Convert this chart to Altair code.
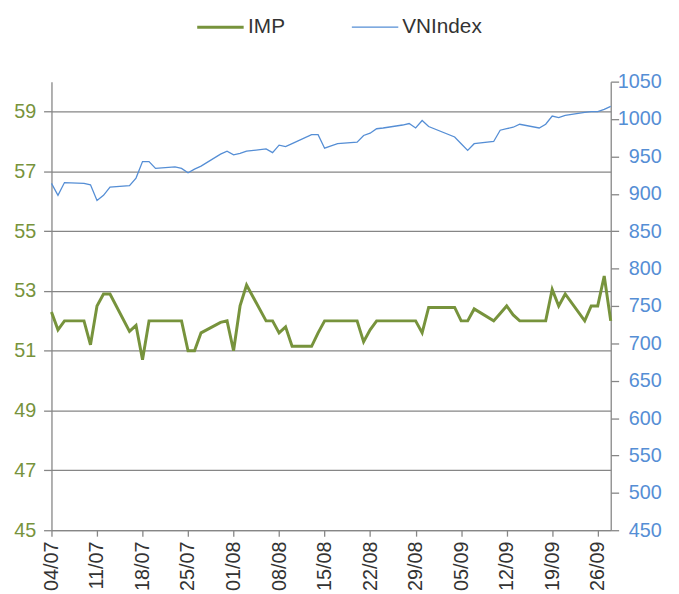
import altair as alt
import pandas as pd

# Trading days (2018)
dates = [
    "2018-07-04", "2018-07-05", "2018-07-06",
    "2018-07-09", "2018-07-10", "2018-07-11", "2018-07-12", "2018-07-13",
    "2018-07-16", "2018-07-17", "2018-07-18", "2018-07-19", "2018-07-20",
    "2018-07-23", "2018-07-24", "2018-07-25", "2018-07-26", "2018-07-27",
    "2018-07-30", "2018-07-31", "2018-08-01", "2018-08-02", "2018-08-03",
    "2018-08-06", "2018-08-07", "2018-08-08", "2018-08-09", "2018-08-10",
    "2018-08-13", "2018-08-14", "2018-08-15", "2018-08-16", "2018-08-17",
    "2018-08-20", "2018-08-21", "2018-08-22", "2018-08-23", "2018-08-24",
    "2018-08-27", "2018-08-28", "2018-08-29", "2018-08-30", "2018-08-31",
    "2018-09-04", "2018-09-05", "2018-09-06", "2018-09-07",
    "2018-09-10", "2018-09-11", "2018-09-12", "2018-09-13", "2018-09-14",
    "2018-09-17", "2018-09-18", "2018-09-19", "2018-09-20", "2018-09-21",
    "2018-09-24", "2018-09-25", "2018-09-26", "2018-09-27", "2018-09-28",
]

imp = [
    52.3, 51.7, 52.0,
    52.0, 51.2, 52.5, 52.9, 52.9,
    51.65, 51.85, 50.7, 52.0, 52.0,
    52.0, 52.0, 51.0, 51.0, 51.6,
    51.95, 52.0, 51.0, 52.5, 53.2,
    52.0, 52.0, 51.6, 51.8, 51.15,
    51.15, 51.6, 52.0, 52.0, 52.0,
    52.0, 51.3, 51.7, 52.0, 52.0,
    52.0, 52.0, 52.0, 51.6, 52.45,
    52.45, 52.0, 52.0, 52.4,
    52.0, 52.25, 52.5, 52.2, 52.0,
    52.0, 52.0, 53.05, 52.5, 52.9,
    52.0, 52.5, 52.5, 53.5, 52.0,
]

vnindex = [
    914, 898, 915,
    914, 912, 891, 898, 909,
    911, 921, 943, 943, 934,
    936, 934, 928, 933, 937,
    953, 957, 952, 954, 957,
    960, 955, 965, 963, 967,
    979, 979, 961, 964, 967,
    969, 978, 981, 987, 988,
    992, 994, 988, 998, 990,
    976, 967, 958, 967,
    970, 985, 987, 989, 993,
    988, 993, 1004, 1002, 1005,
    1009, 1010, 1010, 1013, 1017,
]

series_names = ["IMP", "VNIndex"]
tick_days = [(7, 4), (7, 11), (7, 18), (7, 25), (8, 1), (8, 8), (8, 15),
             (8, 22), (8, 29), (9, 5), (9, 12), (9, 19), (9, 26)]
left_ticks = [45, 47, 49, 51, 53, 55, 57, 59]
right_ticks = [450, 500, 550, 600, 650, 700, 750, 800, 850, 900, 950, 1000, 1050]

GREEN = "#77933C"
BLUE = "#558ED5"
GRID = "#868686"
TEXT = "#333333"
FONT = "Liberation Sans"

df_imp = pd.DataFrame({"date": dates, "value": imp, "series": "IMP"})
df_vn = pd.DataFrame({"date": dates, "value": vnindex, "series": "VNIndex"})

x_enc = alt.X(
    "date:T",
    scale=alt.Scale(
        type="utc",
        domain=[alt.DateTime(year=2018, month=7, date=4, utc=True),
                alt.DateTime(year=2018, month=9, date=28, utc=True)],
    ),
    axis=alt.Axis(
        title=None,
        values=[alt.DateTime(year=2018, month=m, date=d, utc=True) for m, d in tick_days],
        labelExpr="utcFormat(datum.value, '%d/%m')",
        labelAngle=270,
        labelFlush=False,
        labelOverlap=False,
        labelFontSize=20,
        labelColor=TEXT,
        labelPadding=5,
        tickSize=6,
        tickColor=GRID,
        tickWidth=1.3,
        domainColor=GRID,
        domainWidth=1.3,
        grid=False,
    ),
)

legend = alt.Legend(
    title=None,
    orient="none",
    legendX=146,
    legendY=-80,
    direction="horizontal",
    symbolSize=2209,
    symbolType="stroke",
    labelFontSize=21,
    labelColor=TEXT,
    labelFont=FONT,
    labelOffset=3,
    columnPadding=64,
)

color_enc = alt.Color(
    "series:N",
    scale=alt.Scale(domain=series_names, range=[GREEN, BLUE]),
    legend=legend,
)
sw_enc = alt.StrokeWidth(
    "series:N",
    scale=alt.Scale(domain=series_names, range=[3, 1.3]),
    legend=legend,
)

imp_line = alt.Chart(df_imp).mark_line().encode(
    x=x_enc,
    y=alt.Y(
        "value:Q",
        scale=alt.Scale(domain=[45, 60], nice=False, zero=False),
        axis=alt.Axis(
            title=None,
            orient="left",
            values=left_ticks,
            format="d",
            grid=True,
            gridColor=GRID,
            gridWidth=1.3,
            gridOpacity=1,
            domainColor=GRID,
            domainWidth=1.3,
            tickColor=GRID,
            tickWidth=1.3,
            tickSize=8,
            labelColor=GREEN,
            labelFontSize=20,
            labelPadding=8,
            labelOverlap=False,
            labelFlush=False,
        ),
    ),
    color=color_enc,
    strokeWidth=sw_enc,
)

vn_line = alt.Chart(df_vn).mark_line().encode(
    x=x_enc,
    y=alt.Y(
        "value:Q",
        scale=alt.Scale(domain=[450, 1050], nice=False, zero=False),
        axis=alt.Axis(
            title=None,
            orient="right",
            values=right_ticks,
            format="d",
            grid=False,
            domainColor=GRID,
            domainWidth=1.3,
            tickColor=GRID,
            tickWidth=1.3,
            tickSize=8,
            labelColor=BLUE,
            labelFontSize=20,
            labelAlign="right",
            labelPadding=43,
            labelOverlap=False,
            labelFlush=False,
        ),
    ),
    color=color_enc,
    strokeWidth=sw_enc,
)

chart = (
    alt.layer(imp_line, vn_line)
    .resolve_scale(y="independent")
    .properties(
        width=566,
        height=454,
        padding={"left": 44, "top": 71, "right": 61, "bottom": 60},
        autosize=alt.AutoSizeParams(type="none"),
        background="white",
    )
    .configure_view(stroke=None)
    .configure_axis(labelFont=FONT)
    .configure_legend(labelFont=FONT)
)

chart.save("out.html", embed_options={"renderer": "svg", "actions": False})
